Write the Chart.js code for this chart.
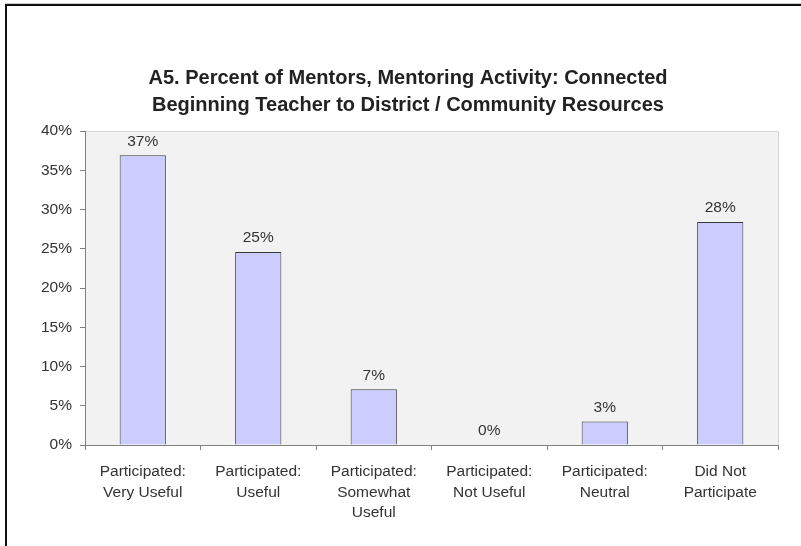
<!DOCTYPE html>
<html>
<head>
<meta charset="utf-8">
<script src="https://cdn.jsdelivr.net/npm/chart.js@4/dist/chart.umd.min.js"></script>
<style>
  body { margin: 0; background: #fff; }
  #chart { display: block; }
</style>
</head>
<body>
<canvas id="chart" width="801" height="546"></canvas>
<script>
// data
const categories = [
    ['Participated:', 'Very Useful'],
    ['Participated:', 'Useful'],
    ['Participated:', 'Somewhat', 'Useful'],
    ['Participated:', 'Not Useful'],
    ['Participated:', 'Neutral'],
    ['Did Not', 'Participate']
];
const percentMentors = [36.9, 24.6, 7.1, 0, 3.0, 28.4];
const yTicksMax = 40;
const yTicksStep = 5;

const titleLines = [
    'A5. Percent of Mentors, Mentoring Activity: Connected',
    'Beginning Teacher to District / Community Resources'
];

const FONT = '"Liberation Sans", Arial, sans-serif';

// grey plot box, outer frame and the title
const frame = {
    id: 'frame',
    beforeDraw(chart) {
        const ctx = chart.ctx;
        const a = chart.chartArea;
        ctx.save();
        ctx.fillStyle = '#ffffff';
        ctx.fillRect(0, 0, chart.width, chart.height);
        ctx.fillStyle = '#f2f2f2';
        ctx.fillRect(a.left, a.top, a.right - a.left, a.bottom - a.top);
        ctx.strokeStyle = '#d4d4d4';
        ctx.lineWidth = 1;
        ctx.beginPath();
        ctx.moveTo(a.left, a.top + 0.5);
        ctx.lineTo(a.right + 0.5, a.top + 0.5);
        ctx.lineTo(a.right + 0.5, a.bottom);
        ctx.stroke();
        // outer border (left + top only visible)
        ctx.strokeStyle = '#c8c8c8';
        ctx.beginPath();
        ctx.moveTo(5, 3.5);
        ctx.lineTo(chart.width, 3.5);
        ctx.stroke();
        ctx.strokeStyle = '#111';
        ctx.lineWidth = 2;
        ctx.beginPath();
        ctx.moveTo(6, chart.height);
        ctx.lineTo(6, 5);
        ctx.lineTo(chart.width, 5);
        ctx.stroke();
        // title
        ctx.font = 'bold 20px ' + FONT;
        ctx.fillStyle = '#222';
        ctx.textAlign = 'center';
        ctx.textBaseline = 'middle';
        titleLines.forEach(function(line, i) {
            ctx.fillText(line, 408, 78 + i * 27);
        });
        ctx.restore();
    }
};

// value labels above bars
const barLabels = {
    id: 'barLabels',
    afterDatasetsDraw(chart) {
        const ctx = chart.ctx;
        const meta = chart.getDatasetMeta(0);
        ctx.save();
        ctx.font = '15.5px ' + FONT;
        ctx.fillStyle = '#333';
        ctx.textAlign = 'center';
        ctx.textBaseline = 'middle';
        meta.data.forEach(function(bar, i) {
            const v = percentMentors[i];
            ctx.fillText(Math.round(v) + '%', bar.x, bar.y - 14);
        });
        ctx.restore();
    }
};

const data = {
    labels: categories,
    datasets: [{
        label: 'Percent of Mentors',
        data: percentMentors,
        backgroundColor: '#ccccff',
        borderColor: '#3a3a3a',
        borderWidth: 1,
        barPercentage: 0.4,
        categoryPercentage: 1.0
    }]
};

const config = {
    type: 'bar',
    data: data,
    options: {
        responsive: false,
        animation: false,
        layout: { padding: { left: 0, right: 23, top: 131, bottom: 0 } },
        plugins: {
            legend: { display: false },
            tooltip: { enabled: false },
            title: { display: false }
        },
        scales: {
            x: {
                grid: {
                    offset: true,
                    drawOnChartArea: false,
                    drawTicks: true,
                    tickLength: 5,
                    color: '#808080'
                },
                border: { color: '#808080', width: 1 },
                ticks: {
                    color: '#333',
                    font: { family: FONT, size: 15.5, lineHeight: 1.3 },
                    padding: 12,
                    maxRotation: 0,
                    autoSkip: false
                },
                afterFit: function(scale) { scale.height = 101; }
            },
            y: {
                min: 0,
                max: yTicksMax,
                grid: {
                    drawOnChartArea: false,
                    drawTicks: true,
                    tickLength: 5,
                    color: '#808080'
                },
                border: { color: '#808080', width: 1 },
                ticks: {
                    stepSize: yTicksStep,
                    color: '#333',
                    font: { family: FONT, size: 15.5 },
                    padding: 8,
                    callback: function(v) { return v + '%'; }
                },
                afterFit: function(scale) { scale.width = 85; }
            }
        }
    },
    plugins: [frame, barLabels]
};

const chart = new Chart(document.getElementById('chart'), config);
</script>
</body>
</html>
